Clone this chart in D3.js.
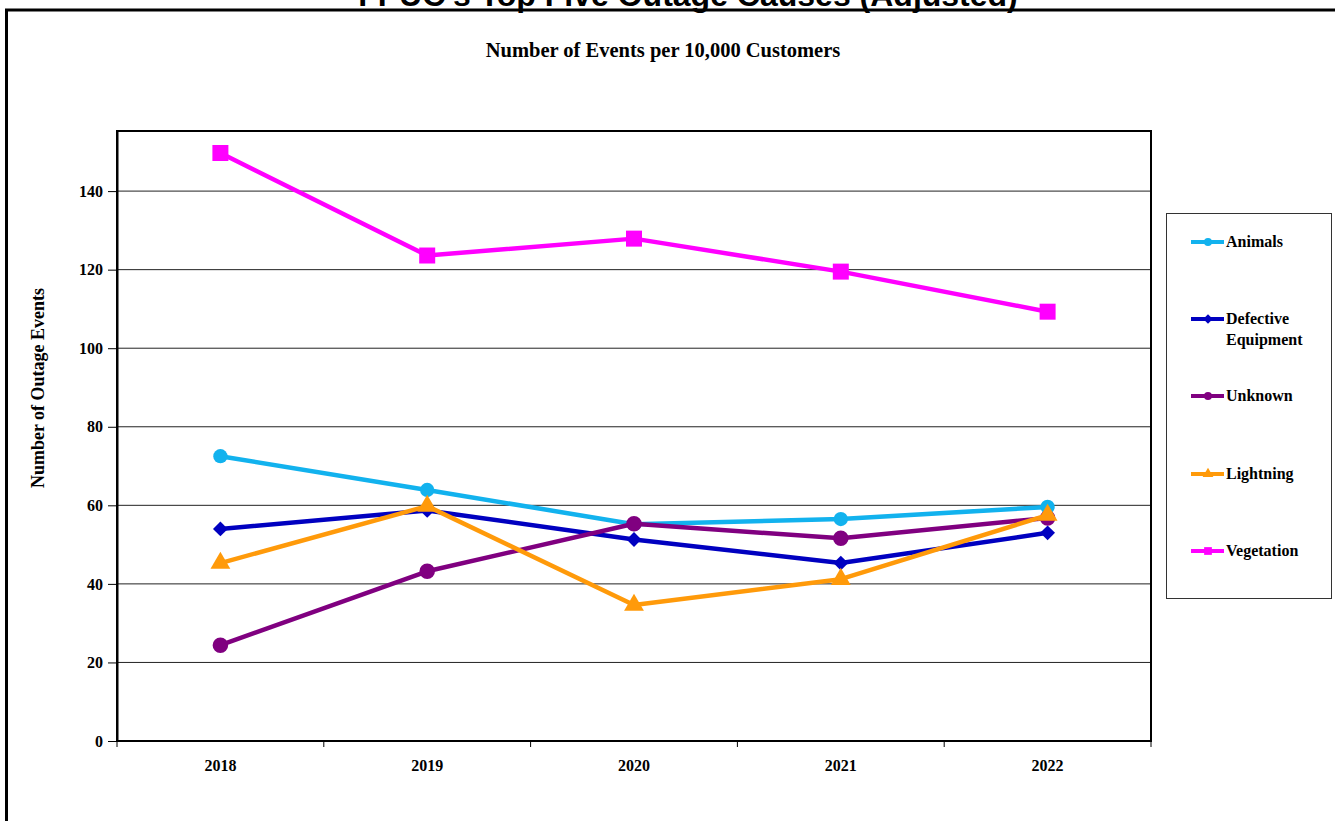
<!DOCTYPE html>
<html>
<head>
<meta charset="utf-8">
<script src="https://cdn.jsdelivr.net/npm/d3@7"></script>
<style>
  body { margin: 0; background: #fff; }
  svg text { font-family: "Liberation Serif", "Times New Roman", serif; font-weight: bold; }
</style>
</head>
<body>
<div id="chart"></div>
<script>
var years = ["2018", "2019", "2020", "2021", "2022"];
var yTicks = [0, 20, 40, 60, 80, 100, 120, 140];

var animals = [72.5, 63.9, 55.2, 56.5, 59.6];
var defective = [54.0, 58.7, 51.3, 45.3, 53.0];
var unknown = [24.4, 43.2, 55.3, 51.6, 56.8];
var lightning = [45.3, 59.8, 34.6, 41.2, 57.5];
var vegetation = [149.7, 123.6, 127.9, 119.5, 109.3];

var seriesNames = ["Animals", "Defective Equipment", "Unknown", "Lightning", "Vegetation"];
var seriesColors = ["#12B2EE", "#0000C0", "#800080", "#FF9A0A", "#FF00FF"];

var W = 1335, H = 821;
var svg = d3.select("#chart").append("svg").attr("width", W).attr("height", H);

// outer frame (cut off at right and bottom)
svg.append("rect").attr("x", 6.5).attr("y", 10).attr("width", W + 10).attr("height", H + 10)
  .attr("fill", "none").attr("stroke", "#000").attr("stroke-width", 3);

// main title, mostly cut off at the top
svg.append("text").attr("x", 688).attr("y", 6)
  .attr("text-anchor", "middle")
  .style("font-family", "'Liberation Sans', Arial, sans-serif")
  .style("font-size", "32px")
  .text("FPUC's Top Five Outage Causes (Adjusted)");

svg.append("text").attr("x", 663).attr("y", 57)
  .attr("text-anchor", "middle").style("font-size", "20.5px")
  .text("Number of Events per 10,000 Customers");

var plotL = 117, plotR = 1151, plotT = 131, plotB = 741;

var x = d3.scaleBand().domain(years).range([plotL, plotR]);
var y = d3.scaleLinear().domain([0, 155.3]).range([plotB, plotT]);

// gridlines
svg.append("g").selectAll("line").data(yTicks.filter(function(d) { return d > 0; }))
  .enter().append("line")
  .attr("x1", plotL).attr("x2", plotR)
  .attr("y1", function(d) { return y(d); }).attr("y2", function(d) { return y(d); })
  .attr("stroke", "#222").attr("stroke-width", 1);

// plot frame
svg.append("rect").attr("x", plotL).attr("y", plotT).attr("width", plotR - plotL).attr("height", plotB - plotT)
  .attr("fill", "none").attr("stroke", "#000").attr("stroke-width", 2);

// y axis
var yAxis = svg.append("g").attr("transform", "translate(" + plotL + ",0)")
  .call(d3.axisLeft(y).tickValues(yTicks).tickSize(9).tickSizeOuter(0).tickPadding(5));
yAxis.select(".domain").attr("stroke", "#000").attr("stroke-width", 2);
yAxis.selectAll(".tick line").attr("stroke", "#000");
yAxis.selectAll(".tick text").style("font-size", "16px").style("font-family", "'Liberation Serif', serif")
  .attr("fill", "#000");

// x axis: ticks at category boundaries
svg.append("line").attr("x1", plotL).attr("x2", plotR).attr("y1", plotB).attr("y2", plotB)
  .attr("stroke", "#000").attr("stroke-width", 2);
var bounds = years.map(function(d) { return x(d); }).concat([plotR]);
svg.append("g").selectAll("line").data(bounds).enter().append("line")
  .attr("x1", function(d) { return d; }).attr("x2", function(d) { return d; })
  .attr("y1", plotB).attr("y2", plotB + 6).attr("stroke", "#000");
svg.append("g").selectAll("text").data(years).enter().append("text")
  .attr("x", function(d) { return x(d) + x.bandwidth() / 2; })
  .attr("y", 771).attr("text-anchor", "middle").style("font-size", "16px")
  .text(function(d) { return d; });

// y axis title
svg.append("text").attr("transform", "translate(44,388) rotate(-90)")
  .attr("text-anchor", "middle").style("font-size", "18px")
  .text("Number of Outage Events");

// diamond drawn as a rotated square, like Excel's marker
var diamond = {
  draw: function(ctx, size) {
    var r = Math.sqrt(size / 2);
    ctx.moveTo(0, -r); ctx.lineTo(r, 0); ctx.lineTo(0, r); ctx.lineTo(-r, 0); ctx.closePath();
  }
};

var symbols = [
  d3.symbol().type(d3.symbolCircle).size(160),
  d3.symbol().type(diamond).size(110),
  d3.symbol().type(d3.symbolCircle).size(190),
  d3.symbol().type(d3.symbolTriangle).size(170),
  d3.symbol().type(d3.symbolSquare).size(256)
];

var allSeries = [animals, defective, unknown, lightning, vegetation];

var line = d3.line()
  .x(function(d, i) { return x(years[i]) + x.bandwidth() / 2; })
  .y(function(d) { return y(d); });

allSeries.forEach(function(vals, k) {
  var g = svg.append("g");
  g.append("path").datum(vals).attr("d", line)
    .attr("fill", "none").attr("stroke", seriesColors[k]).attr("stroke-width", 4.5)
    .attr("stroke-linejoin", "round");
  g.selectAll("path.m").data(vals).enter().append("path").attr("class", "m")
    .attr("d", symbols[k])
    .attr("transform", function(d, i) {
      return "translate(" + (x(years[i]) + x.bandwidth() / 2) + "," + y(d) + ")";
    })
    .attr("fill", seriesColors[k]);
});

// legend
svg.append("rect").attr("x", 1166.5).attr("y", 213.5).attr("width", 165).attr("height", 385)
  .attr("fill", "#fff").attr("stroke", "#333").attr("stroke-width", 1);

var legendY = [242, 319, 396, 474, 551];
var legendSymbols = [
  d3.symbol().type(d3.symbolCircle).size(50),
  d3.symbol().type(diamond).size(45),
  d3.symbol().type(d3.symbolCircle).size(50),
  d3.symbol().type(d3.symbolTriangle).size(50),
  d3.symbol().type(d3.symbolSquare).size(60)
];
seriesNames.forEach(function(name, k) {
  var ly = legendY[k];
  svg.append("line").attr("x1", 1191).attr("x2", 1224).attr("y1", ly).attr("y2", ly)
    .attr("stroke", seriesColors[k]).attr("stroke-width", 4);
  svg.append("path").attr("d", legendSymbols[k])
    .attr("transform", "translate(1208," + ly + ")").attr("fill", seriesColors[k]);
  var t = svg.append("text").attr("x", 1226).attr("y", ly + 5).style("font-size", "16px");
  if (name === "Defective Equipment") {
    t.append("tspan").attr("x", 1226).text("Defective");
    t.append("tspan").attr("x", 1226).attr("dy", 21).text("Equipment");
  } else {
    t.text(name);
  }
});
</script>
</body>
</html>
